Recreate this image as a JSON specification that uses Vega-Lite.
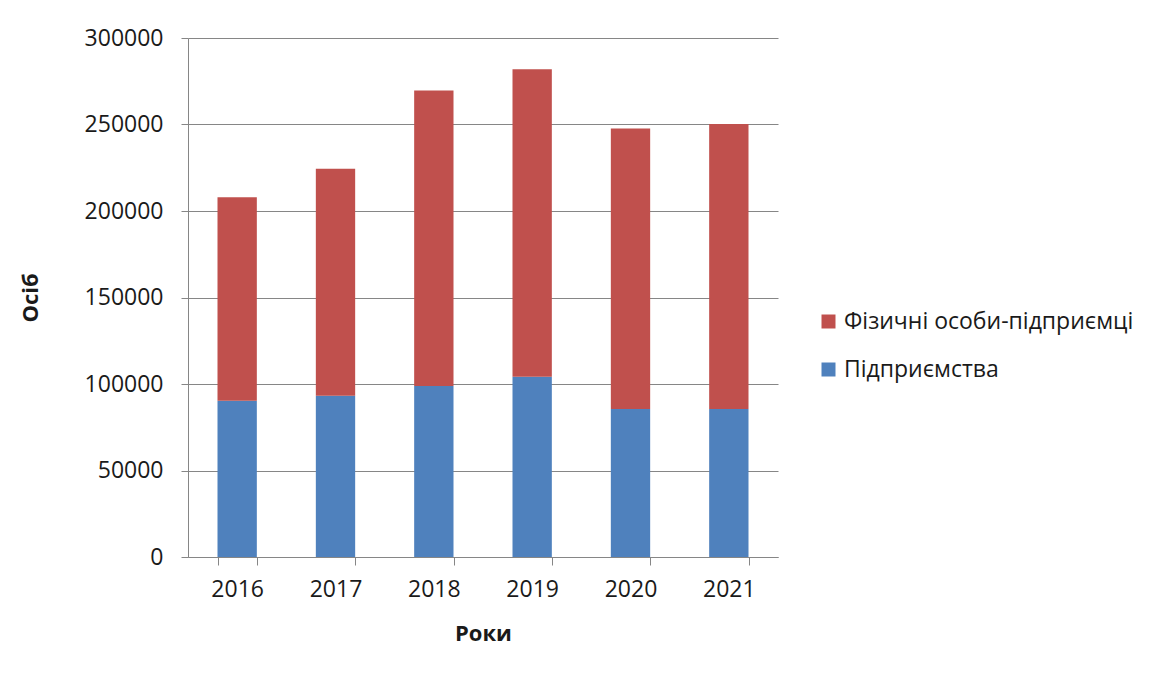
{
  "$schema": "https://vega.github.io/schema/vega-lite/v6.json",
  "width": 590,
  "height": 519,
  "autosize": {"type": "none"},
  "padding": {"left": 188, "top": 38, "right": 379, "bottom": 121},
  "background": "white",
  "config": {
    "font": "Open Sans",
    "view": {"stroke": null},
    "axis": {
      "domainColor": "#868686",
      "tickColor": "#868686",
      "gridColor": "#868686",
      "labelColor": "#1a1a1a",
      "titleColor": "#1a1a1a",
      "labelFont": "Open Sans",
      "titleFont": "Open Sans",
      "labelFontSize": 23,
      "titleFontSize": 22,
      "titleFontWeight": "bold"
    },
    "legend": {"labelFont": "Open Sans"}
  },
  "data": {
    "values": [
      {"year": "2016", "category": "Підприємства", "value": 90300},
      {"year": "2016", "category": "Фізичні особи-підприємці", "value": 117700},
      {"year": "2017", "category": "Підприємства", "value": 93200},
      {"year": "2017", "category": "Фізичні особи-підприємці", "value": 131200},
      {"year": "2018", "category": "Підприємства", "value": 98800},
      {"year": "2018", "category": "Фізичні особи-підприємці", "value": 170900},
      {"year": "2019", "category": "Підприємства", "value": 104200},
      {"year": "2019", "category": "Фізичні особи-підприємці", "value": 177700},
      {"year": "2020", "category": "Підприємства", "value": 85500},
      {"year": "2020", "category": "Фізичні особи-підприємці", "value": 162200},
      {"year": "2021", "category": "Підприємства", "value": 85500},
      {"year": "2021", "category": "Фізичні особи-підприємці", "value": 164800}
    ]
  },
  "mark": {"type": "bar"},
  "encoding": {
    "x": {
      "field": "year",
      "type": "nominal",
      "scale": {"paddingInner": 0.6, "paddingOuter": 0.3},
      "axis": {
        "title": "Роки",
        "labelAngle": 0,
        "tickBand": "extent",
        "tickSize": 8,
        "labelPadding": 13,
        "grid": false,
        "titleX": 295,
        "titleY": 76,
        "titleBaseline": "middle"
      }
    },
    "y": {
      "field": "value",
      "type": "quantitative",
      "stack": "zero",
      "scale": {"domain": [0, 300000], "nice": false},
      "axis": {
        "title": "Осіб",
        "values": [0, 50000, 100000, 150000, 200000, 250000, 300000],
        "format": "d",
        "tickSize": 7,
        "labelPadding": 18,
        "grid": true,
        "titleX": -158,
        "titleY": 259.5,
        "titleBaseline": "middle",
        "titleAlign": "center",
        "titleAngle": -90
      }
    },
    "color": {
      "field": "category",
      "type": "nominal",
      "scale": {
        "domain": ["Фізичні особи-підприємці", "Підприємства"],
        "range": ["#C0504D", "#4F81BD"]
      },
      "legend": {
        "title": null,
        "orient": "none",
        "legendX": 629,
        "legendY": 272,
        "padding": 0,
        "symbolType": "square",
        "symbolSize": 196,
        "symbolStrokeWidth": 0,
        "labelFontSize": 23,
        "labelLimit": 0,
        "labelColor": "#1a1a1a",
        "labelOffset": 4,
        "rowPadding": 24
      }
    },
    "order": {"field": "category", "sort": "ascending"}
  }
}
